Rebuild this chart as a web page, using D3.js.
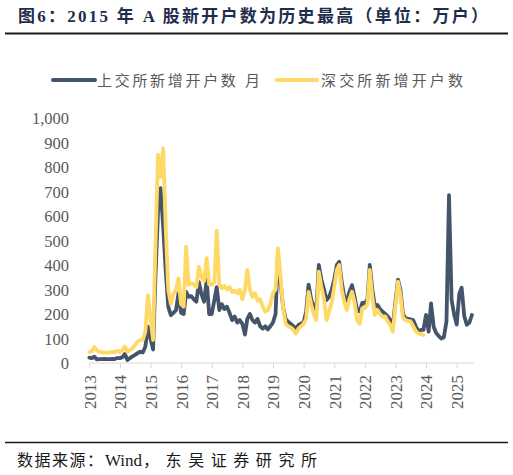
<!DOCTYPE html>
<html>
<head>
<meta charset="utf-8">
<script src="https://cdn.jsdelivr.net/npm/d3@7"></script>
<style>
    body { margin: 0; background: #fff; }
    svg { display: block; }
    .cjk { font-family: "Liberation Serif", "Noto Sans CJK SC", serif; }
    .tick-label { font-family: "Liberation Serif", "Times New Roman", serif; fill: #595959; font-size: 16.5px; }
</style>
</head>
<body>
<svg id="chart" width="513" height="475"></svg>
<script>
// Monthly data starting Jan 2013 (units: 万户)
const startYear = 2013;
const yearTicks = [2013, 2014, 2015, 2016, 2017, 2018, 2019, 2020, 2021, 2022, 2023, 2024, 2025];
const yTicks = [0, 100, 200, 300, 400, 500, 600, 700, 800, 900, 1000];

// 上交所新增开户数 (Jan 2013 - Jul 2025)
const sseValues = [
    22, 20, 26, 15, 16, 16, 17, 16, 16, 17, 16, 20,
    20, 24, 37, 12, 20, 27, 33, 40, 46, 43, 67, 148,
    100, 55, 350, 620, 714, 560, 380, 230, 195, 205, 215, 285,
    205, 200, 290, 270, 273, 260, 250, 330, 280, 250, 339, 200,
    200, 257, 310, 216, 240, 220, 230, 205, 175, 190, 165, 175,
    160, 116, 180, 200, 175, 165, 180, 150, 140, 150, 137, 150,
    165, 200, 440, 330, 230, 180, 168, 160, 150, 140, 155, 160,
    165, 210, 320, 260, 230, 214, 400, 340, 300, 257, 270, 298,
    340, 400, 413, 330, 270, 255, 290, 318, 270, 215, 210, 245,
    245, 260, 400, 300, 230, 237, 220, 210, 200, 190, 175, 150,
    250, 340, 300, 200, 182, 180, 178, 175, 150, 128, 135, 135,
    196, 128, 243, 148, 122, 110, 100, 105, 170, 685, 258, 199,
    157, 283, 307, 192, 156, 165, 196
];

// 深交所新增开户数 (Jan 2013 - Dec 2023)
const szseValues = [
    45, 48, 65, 52, 45, 43, 42, 42, 43, 45, 45, 50,
    45, 53, 67, 45, 53, 60, 73, 87, 94, 94, 128, 277,
    180, 94, 470, 850, 760, 876, 560, 300, 240, 280, 300, 345,
    240, 230, 475, 320, 326, 320, 310, 393, 350, 334, 428, 320,
    320, 330, 540, 320, 305, 315, 300, 310, 290, 295, 285, 300,
    260, 300, 380, 300, 270, 285, 255, 260, 230, 210, 215, 240,
    285, 300, 468, 350, 230, 160, 150, 145, 135, 120, 140, 150,
    160, 180, 290, 240, 200, 175, 373, 310, 260, 175, 210, 245,
    310, 380, 400, 300, 248, 216, 260, 291, 248, 175, 160, 224,
    224, 240, 380, 270, 196, 216, 200, 189, 190, 170, 155, 128,
    235, 332, 280, 185, 175, 172, 170, 150, 130, 121, 118, 114
];

const seriesNames = ['上交所新增开户数 月', '深交所新增开户数'];
const seriesColors = ['#44546A', '#FFD966'];

function monthDate(i) {
    return new Date(startYear, i, 1);
}

function renderChart() {
    const svg = d3.select('#chart');

    const x = d3.scaleTime()
        .domain([new Date(2013, 0, 1), new Date(2025, 0, 1)])
        .range([89.3, 456.7]);
    const y = d3.scaleLinear()
        .domain([0, 1000])
        .range([363, 118]);

    // Title and rule under it
    svg.append('text')
        .attr('class', 'cjk')
        .attr('x', 18)
        .attr('y', 22)
        .attr('textLength', 470)
        .attr('lengthAdjust', 'spacing')
        .style('font-size', '17px')
        .style('font-weight', 'bold')
        .style('fill', '#1F2D4D')
        .text('图6：2015 年 A 股新开户数为历史最高（单位：万户）');

    svg.append('line')
        .attr('x1', 5).attr('x2', 508)
        .attr('y1', 33.5).attr('y2', 33.5)
        .attr('stroke', '#1a1a1a')
        .attr('stroke-width', 2);

    // Legend
    const legendItems = [
        { name: seriesNames[0], color: seriesColors[0], x1: 53, x2: 95, tx: 97, tw: 163 },
        { name: seriesNames[1], color: seriesColors[1], x1: 277, x2: 317, tx: 321, tw: 142 }
    ];
    legendItems.forEach(item => {
        svg.append('line')
            .attr('x1', item.x1).attr('x2', item.x2)
            .attr('y1', 80).attr('y2', 80)
            .attr('stroke', item.color)
            .attr('stroke-width', 4)
            .attr('stroke-linecap', 'round');
        svg.append('text')
            .attr('class', 'cjk')
            .attr('x', item.tx)
            .attr('y', 86)
            .attr('textLength', item.tw)
            .attr('lengthAdjust', 'spacing')
            .style('font-size', '15px')
            .style('fill', '#595959')
            .text(item.name);
    });

    // Y axis labels (no axis line, no grid)
    const yAxis = d3.axisLeft(y)
        .tickValues(yTicks)
        .tickFormat(d3.format(','))
        .tickSize(0)
        .tickPadding(0);
    const yAxisG = svg.append('g')
        .attr('transform', 'translate(69,0)')
        .call(yAxis);
    yAxisG.select('.domain').remove();
    yAxisG.selectAll('text')
        .attr('class', 'tick-label')
        .attr('dy', '0.34em');

    // X axis with rotated year labels
    const xAxis = d3.axisBottom(x)
        .tickValues(yearTicks.map(yr => new Date(yr, 0, 1)))
        .tickFormat(d3.timeFormat('%Y'))
        .tickSize(5)
        .tickSizeOuter(0);
    const xAxisG = svg.append('g')
        .attr('transform', 'translate(0,363)')
        .call(xAxis);
    xAxisG.select('.domain')
        .attr('d', 'M89.3,0H474')
        .attr('stroke', '#D9D9D9');
    xAxisG.selectAll('.tick line').attr('stroke', '#D9D9D9');
    xAxisG.selectAll('text')
        .attr('class', 'tick-label')
        .style('font-size', '17px')
        .attr('text-anchor', 'end')
        .attr('transform', 'rotate(-90)')
        .attr('x', -12)
        .attr('y', 0)
        .attr('dy', '0.35em');

    // Lines: Shanghai first, Shenzhen on top
    const line = d3.line()
        .x((d, i) => x(monthDate(i)))
        .y(d => y(d));

    [sseValues, szseValues].forEach((values, k) => {
        svg.append('path')
            .datum(values)
            .attr('fill', 'none')
            .attr('stroke', seriesColors[k])
            .attr('stroke-width', 3.8)
            .attr('stroke-linejoin', 'round')
            .attr('stroke-linecap', 'round')
            .attr('d', line);
    });

    // Source note
    svg.append('line')
        .attr('x1', 5).attr('x2', 508)
        .attr('y1', 442.5).attr('y2', 442.5)
        .attr('stroke', '#1a1a1a')
        .attr('stroke-width', 1.5);

    const source = svg.append('text')
        .attr('class', 'cjk')
        .attr('y', 466)
        .style('font-size', '16px')
        .style('fill', '#1a1a1a');
    source.append('tspan')
        .attr('x', 17)
        .attr('textLength', 86)
        .attr('lengthAdjust', 'spacing')
        .text('数据来源：');
    source.append('tspan')
        .attr('x', 105)
        .style('font-size', '17px')
        .text('Wind');
    source.append('tspan')
        .attr('x', 143)
        .attr('textLength', 174)
        .attr('lengthAdjust', 'spacing')
        .text('，东吴证券研究所');
}

document.addEventListener('DOMContentLoaded', renderChart);
</script>
</body>
</html>
